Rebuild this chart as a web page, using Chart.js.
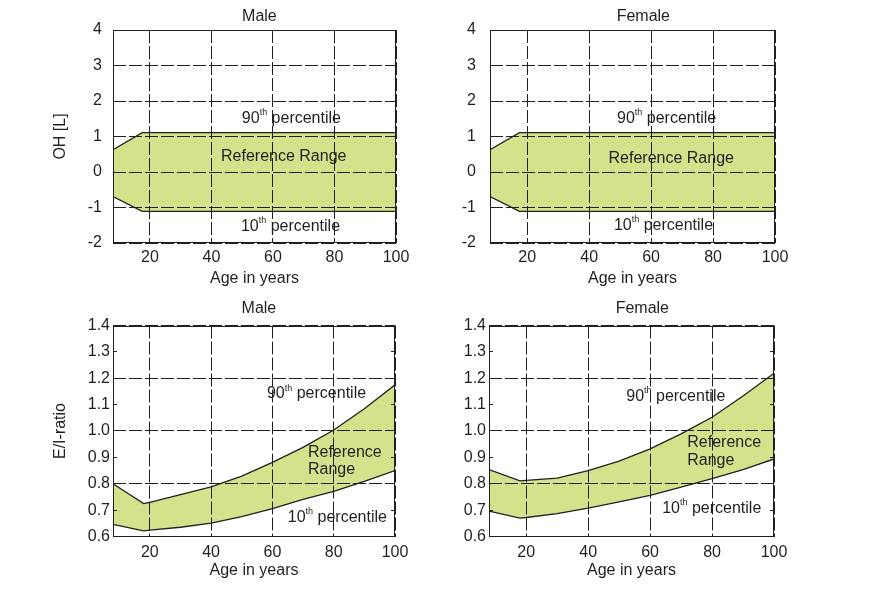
<!DOCTYPE html>
<html>
<head>
<meta charset="utf-8">
<script src="https://cdn.jsdelivr.net/npm/chart.js@4"></script>
<style>
  body { margin: 0; background: #fff; width: 885px; height: 589px; position: relative; overflow: hidden; }
  canvas { position: absolute; }
</style>
</head>
<body>
<canvas id="ohMale" width="442" height="294" style="left:0;top:0"></canvas>
<canvas id="ohFemale" width="443" height="294" style="left:442px;top:0"></canvas>
<canvas id="eiMale" width="442" height="295" style="left:0;top:294px"></canvas>
<canvas id="eiFemale" width="443" height="295" style="left:442px;top:294px"></canvas>
<script>
const INK = '#231f20'
const BAND = '#d4e28b'
const FONT = "'Liberation Sans', Arial, Helvetica, sans-serif"

// overhydration (OH) reference range, litres
const OH_AGES = [8, 17.5, 100]
const OH_MALE_P90 = [0.63, 1.11, 1.11]
const OH_MALE_P10 = [-0.69, -1.11, -1.11]
const OH_FEMALE_P90 = [0.63, 1.11, 1.11]
const OH_FEMALE_P10 = [-0.69, -1.11, -1.11]

// E/I ratio reference range
const EI_AGES = [8, 18, 20, 30, 40, 50, 60, 70, 80, 90, 100]
const EI_MALE_P90 = [0.80, 0.725, 0.729, 0.759, 0.788, 0.829, 0.881, 0.938, 1.004, 1.084, 1.175]
const EI_MALE_P10 = [0.646, 0.621, 0.624, 0.635, 0.651, 0.675, 0.706, 0.741, 0.771, 0.809, 0.85]
const EI_FEMALE_P90 = [0.854, 0.811, 0.813, 0.821, 0.85, 0.886, 0.932, 0.989, 1.052, 1.133, 1.219]
const EI_FEMALE_P10 = [0.696, 0.67, 0.672, 0.687, 0.708, 0.731, 0.756, 0.787, 0.819, 0.854, 0.894]

// ticks
const AGE_TICKS = [20, 40, 60, 80, 100]
const OH_TICKS = [-2, -1, 0, 1, 2, 3, 4]
const EI_TICKS = [0.6, 0.7, 0.8, 0.9, 1.0, 1.1, 1.2, 1.3, 1.4]

// labels inside the plots (anchored in data units)
const OH_MALE_NOTES = [
  { x: 66, y: 1.5, text: '90', sup: 'th', post: ' percentile' },
  { x: 63.5, y: 0.44, text: 'Reference Range' },
  { x: 65.7, y: -1.53, text: '10', sup: 'th', post: ' percentile' }
]
const OH_FEMALE_NOTES = [
  { x: 65, y: 1.5, text: '90', sup: 'th', post: ' percentile' },
  { x: 66.5, y: 0.37, text: 'Reference Range' },
  { x: 64, y: -1.51, text: '10', sup: 'th', post: ' percentile' }
]
const EI_MALE_NOTES = [
  { x: 74.4, y: 1.14, text: '90', sup: 'th', post: ' percentile' },
  { x: 71.6, y: 0.92, text: 'Reference', align: 'left' },
  { x: 71.6, y: 0.852, text: 'Range', align: 'left' },
  { x: 81.2, y: 0.671, text: '10', sup: 'th', post: ' percentile' }
]
const EI_FEMALE_NOTES = [
  { x: 68.3, y: 1.131, text: '90', sup: 'th', post: ' percentile' },
  { x: 72, y: 0.955, text: 'Reference', align: 'left' },
  { x: 72, y: 0.886, text: 'Range', align: 'left' },
  { x: 79.9, y: 0.706, text: '10', sup: 'th', post: ' percentile' }
]

Chart.defaults.font.family = FONT
Chart.defaults.font.size = 16
Chart.defaults.color = INK

// closed outline: 90th percentile forward, 10th percentile back
function band(ages, upper, lower) {
  const pts = ages.map((a, i) => ({ x: a, y: upper[i] }))
  for (let i = ages.length - 1; i >= 0; i--) pts.push({ x: ages[i], y: lower[i] })
  pts.push(pts[0])
  return pts
}

const notesPlugin = {
  id: 'notes',
  afterDatasetsDraw(chart, args, opts) {
    const { ctx, scales: { x, y } } = chart
    const big = `16px ${FONT}`
    const small = `9px ${FONT}`
    ctx.save()
    ctx.fillStyle = INK
    ctx.textBaseline = 'middle'
    ctx.textAlign = 'left'
    opts.items.forEach((n) => {
      ctx.font = big
      const w1 = ctx.measureText(n.text).width
      const w3 = n.post ? ctx.measureText(n.post).width : 0
      ctx.font = small
      const w2 = n.sup ? ctx.measureText(n.sup).width : 0
      let px = x.getPixelForValue(n.x)
      const py = y.getPixelForValue(n.y)
      if (n.align !== 'left') px -= (w1 + w2 + w3) / 2
      ctx.font = big
      ctx.fillText(n.text, px, py)
      if (n.sup) {
        ctx.font = small
        ctx.fillText(n.sup, px + w1, py - 6)
      }
      if (n.post) {
        ctx.font = big
        ctx.fillText(n.post, px + w1 + w2, py)
      }
    })
    ctx.restore()
  },
  afterDraw(chart, args, opts) {
    // panel heading, slightly right of the plot centre as in the original
    const { ctx, scales: { x }, chartArea } = chart
    ctx.save()
    ctx.fillStyle = INK
    ctx.font = `16px ${FONT}`
    ctx.textAlign = 'center'
    ctx.textBaseline = 'middle'
    ctx.fillText(opts.heading, x.getPixelForValue(opts.headingAt), chartArea.top - opts.headingGap)
    ctx.restore()
  }
}

const framePlugin = {
  id: 'frame',
  afterDraw(chart) {
    const { ctx, chartArea: a } = chart
    const l = Math.round(a.left) + 0.5
    const t = Math.round(a.top) + 0.5
    const r = Math.round(a.right) - 0.5
    const b = Math.round(a.bottom) - 0.5
    ctx.save()
    ctx.strokeStyle = INK
    ctx.lineWidth = 1
    ctx.strokeRect(l, t, r - l, b - t)
    ctx.restore()
  }
}

function makeChart(id, p) {
  const ei = p.kind === 'ei'
  const yTicks = ei ? EI_TICKS : OH_TICKS
  const setTicks = (list) => (s) => { s.ticks = list.map((v) => ({ value: v })) }
  const scales = {
    x: {
      type: 'linear',
      min: 8,
      max: 100,
      afterBuildTicks: setTicks(AGE_TICKS),
      afterFit: (s) => { s.height = p.xh },
      ticks: { padding: p.xPad, maxRotation: 0, autoSkip: false, color: INK },
      grid: { color: INK, z: 1, drawTicks: false, lineWidth: 1 },
      border: { display: false, dash: [13, 3] },
      title: { display: true, text: 'Age in years', color: INK, padding: { top: 0, bottom: p.xTitlePad } }
    },
    y: {
      type: 'linear',
      min: yTicks[0],
      max: yTicks[yTicks.length - 1],
      afterBuildTicks: setTicks(yTicks),
      afterFit: (s) => { s.width = p.yw },
      ticks: {
        padding: p.yPad,
        color: INK,
        autoSkip: false,
        callback: (v) => ei ? Number(v).toFixed(1) : String(v)
      },
      grid: {
        z: 1,
        lineWidth: 1,
        color: (c) => (!ei || Math.round(c.tick.value * 10) % 2 === 0) ? INK : 'rgba(0,0,0,0)',
        tickColor: INK,
        drawTicks: ei,
        tickLength: -4
      },
      border: { display: false, dash: [13, 3] },
      title: p.yTitle
        ? { display: true, text: p.yTitle, color: INK, padding: { top: 51, bottom: 0 } }
        : { display: false }
    }
  }
  if (ei) {
    // mirrored inner ticks on the right edge
    scales.y2 = {
      type: 'linear',
      position: 'right',
      min: yTicks[0],
      max: yTicks[yTicks.length - 1],
      afterBuildTicks: setTicks(yTicks),
      afterFit: (s) => { s.width = 0 },
      ticks: { display: false },
      grid: { z: 1, drawOnChartArea: false, drawTicks: true, tickLength: -4, tickColor: INK },
      border: { display: false }
    }
  }

  return new Chart(document.getElementById(id), {
    type: 'line',
    data: {
      datasets: [{
        data: band(p.ages, p.upper, p.lower),
        borderColor: INK,
        borderWidth: 1.3,
        backgroundColor: BAND,
        fill: 'shape',
        pointRadius: 0,
        tension: 0
      }]
    },
    options: {
      responsive: false,
      animation: false,
      layout: { padding: { left: 0, right: p.right, top: p.top, bottom: 0 } },
      scales,
      plugins: {
        legend: { display: false },
        tooltip: { enabled: false },
        title: { display: false },
        notes: { items: p.notes, heading: p.title, headingAt: p.titleAt, headingGap: p.titleGap }
      }
    },
    plugins: [notesPlugin, framePlugin]
  })
}

makeChart('ohMale', {
  kind: 'oh', title: 'Male', titleAt: 55.6, titleGap: 13, yTitle: 'OH [L]',
  ages: OH_AGES, upper: OH_MALE_P90, lower: OH_MALE_P10, notes: OH_MALE_NOTES,
  top: 30, right: 46, yw: 113, xh: 51, yPad: 11, xPad: 5, xTitlePad: 6
})
makeChart('ohFemale', {
  kind: 'oh', title: 'Female', titleAt: 57.5, titleGap: 13,
  ages: OH_AGES, upper: OH_FEMALE_P90, lower: OH_FEMALE_P10, notes: OH_FEMALE_NOTES,
  top: 30, right: 110, yw: 48, xh: 51, yPad: 14, xPad: 5, xTitlePad: 6
})
makeChart('eiMale', {
  kind: 'ei', title: 'Male', titleAt: 55.6, titleGap: 16.5, yTitle: 'E/I-ratio',
  ages: EI_AGES, upper: EI_MALE_P90, lower: EI_MALE_P10, notes: EI_MALE_NOTES,
  top: 31.5, right: 47, yw: 113, xh: 52.5, yPad: 7, xPad: 6, xTitlePad: 8.4
})
makeChart('eiFemale', {
  kind: 'ei', title: 'Female', titleAt: 57.5, titleGap: 16.5,
  ages: EI_AGES, upper: EI_FEMALE_P90, lower: EI_FEMALE_P10, notes: EI_FEMALE_NOTES,
  top: 31.5, right: 111, yw: 47, xh: 52.5, yPad: 7, xPad: 6, xTitlePad: 8.4
})
</script>
</body>
</html>
